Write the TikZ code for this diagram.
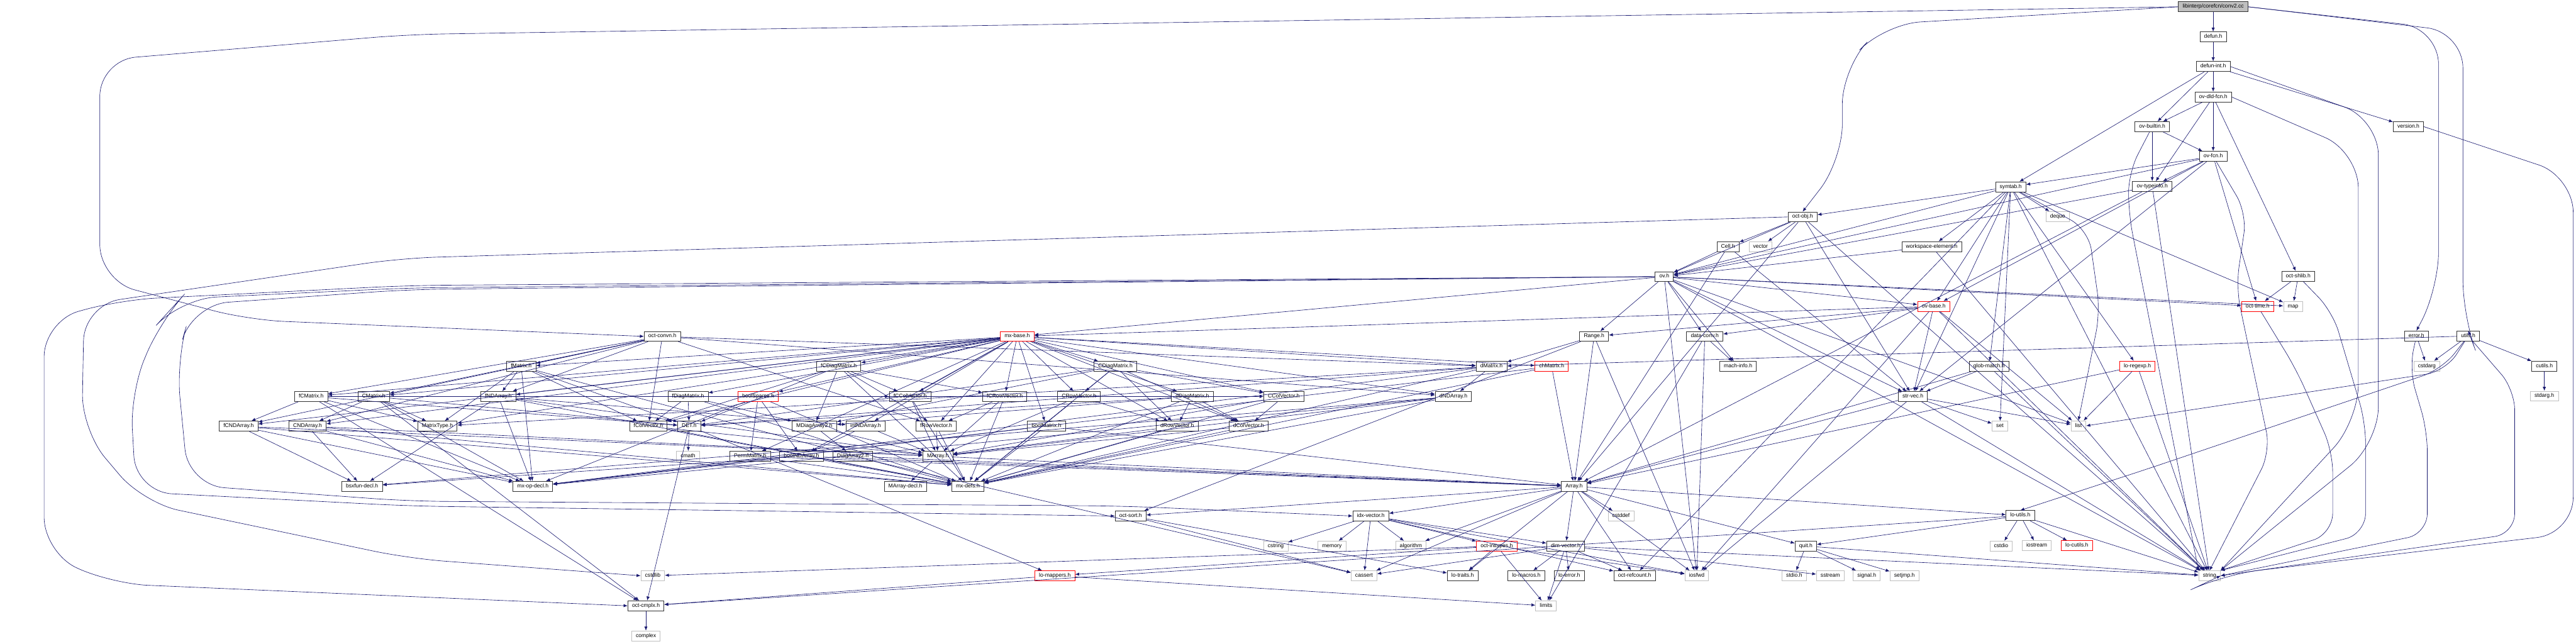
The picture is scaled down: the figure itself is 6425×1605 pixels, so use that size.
\documentclass[tikz,border=0pt]{standalone}
\usepackage{fontspec}
\setmainfont{Liberation Sans}
\usetikzlibrary{arrows.meta}
\definecolor{edgeblue}{RGB}{25,25,112}
\definecolor{syshdr}{RGB}{191,191,191}
\tikzset{
    hdrbase/.style={
        rectangle,
        draw=black!80,
        line width=1.2pt,
        fill=white,
        minimum height=25pt,
        inner xsep=10.5pt,
        inner ysep=0pt,
        text height=9.5pt,
        text depth=3pt,
        font=\fontsize{13.5}{15}\selectfont
    },
    hdr/.style={hdrbase},
    trunc/.style={hdrbase, draw=red},
    sys/.style={hdrbase, draw=syshdr},
    rootfile/.style={hdrbase, fill=syshdr},
    line/.style={-{Latex[length=10pt,width=8pt]}, draw=edgeblue, line width=1pt},
    wrap/.style={line, rounded corners=90pt},
    bow/.style={line, rounded corners=50pt},
}

\begin{document}
\begin{tikzpicture}[x=1pt, y=-1pt]
    \useasboundingbox (0,0) rectangle (6425,1605);

    % libinterp
    \node[rootfile] (conv2) at (5520,17) {libinterp/corefcn/conv2.cc};
    \node[hdr] (defunh) at (5520,92) {defun.h};
    \node[hdr] (defunint) at (5520,166) {defun-int.h};
    \node[hdr] (ovdld) at (5520,242) {ov-dld-fcn.h};
    \node[hdr] (ovbuiltin) at (5368,316) {ov-builtin.h};
    \node[hdr] (versionh) at (6007,316) {version.h};
    \node[hdr] (ovfcn) at (5520,390) {ov-fcn.h};
    \node[hdr] (symtab) at (5015,466) {symtab.h};
    \node[hdr] (ovtypeinfo) at (5368,465) {ov-typeinfo.h};
    \node[hdr] (octobj) at (4496,541) {oct-obj.h};
    \node[sys] (dequeh) at (5132,540) {deque};
    \node[hdr] (cellh) at (4310,615) {Cell.h};
    \node[sys] (vectorh) at (4391,615) {vector};
    \node[hdr] (wselem) at (4818,615) {workspace-element.h};
    \node[hdr] (ovh) at (4151,690) {ov.h};
    \node[hdr] (octshlib) at (5732,689) {oct-shlib.h};
    \node[trunc] (ovbase) at (4823,764) {ov-base.h};
    \node[trunc] (octtime) at (5631,764) {oct-time.h};
    \node[sys] (maph) at (5719,764) {map};
    \node[hdr] (errorh) at (6027,838) {error.h};
    \node[hdr] (utilsh) at (6156,838) {utils.h};

    % matrix classes
    \node[hdr] (convn) at (1652,839) {oct-convn.h};
    \node[trunc] (mxbase) at (2537,839) {mx-base.h};
    \node[hdr] (rangeh) at (3976,839) {Range.h};
    \node[hdr] (dataconv) at (4252,839) {data-conv.h};
    \node[hdr] (fmatrix) at (1300,914) {fMatrix.h};
    \node[hdr] (fcdiag) at (2092,914) {fCDiagMatrix.h};
    \node[hdr] (cdiag) at (2782,914) {CDiagMatrix.h};
    \node[hdr] (dmatrix) at (3720,914) {dMatrix.h};
    \node[trunc] (chmatrix) at (3870,914) {chMatrix.h};
    \node[hdr] (machinfo) at (4335,914) {mach-info.h};
    \node[hdr] (globmatch) at (4961,914) {glob-match.h};
    \node[trunc] (loregexp) at (5331,913) {lo-regexp.h};
    \node[sys] (cstdargh) at (6053,913) {cstdarg};
    \node[hdr] (cutilsh) at (6346,913) {cutils.h};
    \node[hdr] (fcmatrix) at (776,989) {fCMatrix.h};
    \node[hdr] (cmatrix) at (932,989) {CMatrix.h};
    \node[hdr] (fndarray) at (1243,989) {fNDArray.h};
    \node[hdr] (fdiag) at (1716,989) {fDiagMatrix.h};
    \node[trunc] (boolsparse) at (1891,989) {boolSparse.h};
    \node[hdr] (fccol) at (2270,989) {fCColVector.h};
    \node[hdr] (fcrow) at (2506,989) {fCRowVector.h};
    \node[hdr] (crow) at (2691,989) {CRowVector.h};
    \node[hdr] (ddiag) at (2974,989) {dDiagMatrix.h};
    \node[hdr] (ccol) at (3202,989) {CColVector.h};
    \node[hdr] (dndarray) at (3625,989) {dNDArray.h};
    \node[hdr] (strvec) at (4771,989) {str-vec.h};
    \node[sys] (stdargh) at (6346,988) {stdarg.h};
    \node[hdr] (fcnd) at (595,1063) {fCNDArray.h};
    \node[hdr] (cnd) at (767,1063) {CNDArray.h};
    \node[hdr] (mtype) at (1091,1063) {MatrixType.h};
    \node[hdr] (fcol) at (1617,1063) {fColVector.h};
    \node[hdr] (det) at (1719,1063) {DET.h};
    \node[hdr] (mdiag) at (2031,1063) {MDiagArray2.h};
    \node[hdr] (intnd) at (2159,1063) {intNDArray.h};
    \node[hdr] (frow) at (2335,1063) {fRowVector.h};
    \node[hdr] (boolmat) at (2610,1063) {boolMatrix.h};
    \node[hdr] (drow) at (2936,1063) {dRowVector.h};
    \node[hdr] (dcol) at (3114,1063) {dColVector.h};
    \node[sys] (seth) at (4988,1063) {set};
    \node[sys] (listh) at (5184,1062) {list};
    \node[sys] (cmathh) at (1716,1138) {cmath};
    \node[hdr] (perm) at (1871,1138) {PermMatrix.h};
    \node[hdr] (boolnd) at (1999,1138) {boolNDArray.h};
    \node[hdr] (diag2) at (2127,1138) {DiagArray2.h};
    \node[hdr] (marray) at (2339,1138) {MArray.h};
    \node[hdr] (bsxfun) at (903,1213) {bsxfun-decl.h};
    \node[hdr] (mxop) at (1329,1213) {mx-op-decl.h};
    \node[hdr] (marraydecl) at (2258,1213) {MArray-decl.h};
    \node[hdr] (mxdefs) at (2414,1213) {mx-defs.h};
    \node[hdr] (arrayh) at (3926,1213) {Array.h};

    % liboctave/util and system headers
    \node[hdr] (octsort) at (2820,1287) {oct-sort.h};
    \node[hdr] (idxvec) at (3419,1287) {idx-vector.h};
    \node[sys] (cstddefh) at (4043,1287) {cstddef};
    \node[hdr] (loutils) at (5039,1286) {lo-utils.h};
    \node[sys] (cstringh) at (3182,1362) {cstring};
    \node[sys] (memoryh) at (3322,1362) {memory};
    \node[sys] (algorithmh) at (3519,1362) {algorithm};
    \node[trunc] (inttypes) at (3733,1362) {oct-inttypes.h};
    \node[hdr] (dimvec) at (3905,1362) {dim-vector.h};
    \node[hdr] (quith) at (4504,1362) {quit.h};
    \node[sys] (cstdioh) at (4991,1362) {cstdio};
    \node[sys] (iostreamh) at (5080,1361) {iostream};
    \node[trunc] (locutils) at (5180,1361) {lo-cutils.h};
    \node[sys] (cstdlibh) at (1628,1436) {cstdlib};
    \node[trunc] (lomappers) at (2631,1436) {lo-mappers.h};
    \node[sys] (cassert) at (3402,1436) {cassert};
    \node[hdr] (lotraits) at (3648,1436) {lo-traits.h};
    \node[hdr] (lomacros) at (3807,1436) {lo-macros.h};
    \node[hdr] (loerror) at (3914,1436) {lo-error.h};
    \node[hdr] (refcount) at (4077,1436) {oct-refcount.h};
    \node[sys] (iosfwdh) at (4232,1436) {iosfwd};
    \node[sys] (stdioh) at (4475,1436) {stdio.h};
    \node[sys] (sstreamh) at (4565,1436) {sstream};
    \node[sys] (signalh) at (4656,1436) {signal.h};
    \node[sys] (setjmph) at (4750,1436) {setjmp.h};
    \node[sys] (stringh) at (5511,1436) {string};
    \node[hdr] (octcmplx) at (1611,1511) {oct-cmplx.h};
    \node[sys] (limitsh) at (3856,1511) {limits};
    \node[sys] (complexh) at (1611,1586) {complex};

    % long connectors
    \draw[wrap] (conv2.west) -- (1020,86) -- (249,150) -- (249,700) -- (620,798) -- (convn.west);
    \draw[wrap] (conv2.west) -- (4700,60) -- (4595,170) -- (4595,400) -- (octobj.north);
    \draw[wrap] (conv2.east) -- (6082,70) -- (6082,720) -- (errorh.north);
    \draw[wrap] (conv2.east) -- (6143,80) -- (6143,790) -- (utilsh.north);
    \draw[wrap] (versionh.east) -- (6418,440) -- (6418,1330) -- (5545,1433) -- (stringh.east);
    \draw[wrap] (defunint.east) -- (5932,297) -- (5932,1105) -- (stringh.north east);
    \draw[wrap] (ovdld.east) -- (5882,379) -- (5882,1050) -- (stringh.north east);
    \draw[wrap] (octobj.west) -- (1000,644) -- (210,760) -- (204,1073) -- (357,1254) -- (1020,1393) -- (cstdlibh.west);
    \draw[wrap] (ovh.west) -- (1020,712) -- (300,748) -- (110,800) -- (110,1380) -- (280,1456) -- (octcmplx.west);
    \draw[wrap] (ovh.west) -- (1020,718) -- (450,745) -- (400,800) -- (325,980) -- (339,1227) -- (1020,1262) -- (octsort.west);
    \draw[wrap] (ovh.west) -- (1020,722) -- (480,760) -- (440,900) -- (470,1210) -- (1020,1250) -- (2800,1262) -- (idxvec.west);

    % bowed connectors
    \draw[bow] (ovfcn) -- (5604,532) -- (5577,717) -- (5663,1126) -- (stringh.north);
    \draw[bow] (ovbuiltin) -- (5309,430) -- (5309,532) -- (5345,717) -- (stringh.north west);
    \draw[bow] (octtime) -- (5727,921) -- (5818,1126) -- (5818,1331) -- (stringh.north east);
    \draw[bow] (octshlib) -- (5818,778) -- (5900,1054) -- (5900,1331) -- (stringh.north east);
    \draw[bow] (symtab) -- (5209,573) -- (5238,778) -- (listh.north);
    \draw[bow] (utilsh) -- (6100,926) -- (listh.east);
    \draw[bow] (utilsh) -- (6091,921) -- (5364,1167) -- (loutils.north);
    \draw[bow] (errorh) -- (6009,921) -- (6054,1075) -- (6054,1331) -- (stringh.east);
    \draw[bow] (utilsh) -- (6272,972) -- (6272,1331) -- (stringh.east);

    % includes
    \foreach \a/\b in {conv2/defunh, defunh/defunint,
        defunint/ovdld, defunint/ovbuiltin, defunint/symtab, defunint/versionh,
        ovdld/ovbuiltin, ovdld/ovfcn, ovdld/ovtypeinfo, ovdld/octshlib,
        ovbuiltin/ovfcn, ovbuiltin/ovtypeinfo,
        ovfcn/symtab, ovfcn/ovtypeinfo, ovfcn/octtime, ovfcn/ovbase, ovfcn/strvec, ovfcn/ovh,
        ovtypeinfo/ovh, ovtypeinfo/stringh, ovtypeinfo/arrayh,
        symtab/octobj, symtab/wselem, symtab/ovh, symtab/strvec, symtab/globmatch,
        symtab/dequeh, symtab/maph, symtab/loregexp, symtab/stringh,
        symtab/seth, symtab/refcount, symtab/ovbase,
        octshlib/octtime, octshlib/maph,
        loregexp/listh, loregexp/stringh, loregexp/arrayh,
        errorh/cstdargh,
        utilsh/cstdargh, utilsh/cutilsh, utilsh/dmatrix,
        cutilsh/stdargh,
        octobj/cellh, octobj/vectorh, octobj/ovh, octobj/arrayh, octobj/strvec, octobj/stringh,
        cellh/arrayh, cellh/strvec, cellh/ovh, wselem/ovh, wselem/stringh,
        ovh/rangeh, ovh/dataconv, ovh/machinfo, ovh/mxbase, ovh/strvec,
        ovh/iosfwdh, ovh/ovbase, ovh/stringh, ovh/listh, ovh/maph, ovh/octtime,
        ovbase/rangeh, ovbase/dataconv, ovbase/mxbase, ovbase/strvec, ovbase/iosfwdh, ovbase/listh, ovbase/stringh,
        mxbase/mtype, mxbase/boolmat, mxbase/boolnd, mxbase/chmatrix, mxbase/dcol, mxbase/drow,
        mxbase/dmatrix, mxbase/dndarray, mxbase/ddiag, mxbase/ccol, mxbase/crow, mxbase/cmatrix,
        mxbase/cnd, mxbase/cdiag, mxbase/fcol, mxbase/frow, mxbase/fmatrix, mxbase/fndarray,
        mxbase/fdiag, mxbase/fccol, mxbase/fcrow, mxbase/fcmatrix, mxbase/fcnd, mxbase/fcdiag,
        mxbase/perm, mxbase/intnd, mxbase/boolsparse,
        convn/fmatrix, convn/fndarray, convn/fcol, convn/frow, convn/fcmatrix, convn/fcnd,
        convn/dmatrix, convn/dndarray, convn/cmatrix, convn/cnd,
        rangeh/dmatrix, rangeh/arrayh, rangeh/octsort, rangeh/iosfwdh,
        dataconv/machinfo, dataconv/limitsh, dataconv/iosfwdh,
        globmatch/strvec, globmatch/arrayh, globmatch/stringh,
        strvec/seth, strvec/arrayh, strvec/iosfwdh, strvec/listh, strvec/stringh,
        fmatrix/fndarray, fmatrix/mtype, fmatrix/det, fmatrix/mxop, fmatrix/mxdefs, fmatrix/fcol,
        fcdiag/mdiag, fcdiag/frow, fcdiag/fcrow, fcdiag/fcol, fcdiag/fccol, fcdiag/det, fcdiag/mxdefs,
        cdiag/mdiag, cdiag/drow, cdiag/crow, cdiag/dcol, cdiag/ccol, cdiag/det, cdiag/mxdefs,
        dmatrix/dndarray, dmatrix/mtype, dmatrix/det, dmatrix/mxop, dmatrix/mxdefs,
        chmatrix/arrayh, chmatrix/mxdefs, chmatrix/mxop,
        fcmatrix/fcnd, fcmatrix/mtype, fcmatrix/det, fcmatrix/mxop, fcmatrix/octcmplx, fcmatrix/fccol,
        cmatrix/cnd, cmatrix/mtype, cmatrix/det, cmatrix/mxop, cmatrix/octcmplx, cmatrix/ccol,
        fndarray/intnd, fndarray/marray, fndarray/mxdefs, fndarray/mxop, fndarray/bsxfun,
        dndarray/marray, dndarray/mxdefs, dndarray/mxop, dndarray/bsxfun,
        fcnd/marray, fcnd/mxdefs, fcnd/mxop, fcnd/bsxfun,
        cnd/marray, cnd/mxdefs, cnd/mxop, cnd/bsxfun,
        fdiag/mdiag, fdiag/fcol, fdiag/det, fdiag/mxdefs,
        ddiag/mdiag, ddiag/drow, ddiag/dcol, ddiag/det, ddiag/mxdefs,
        boolsparse/perm, boolsparse/boolnd, boolsparse/mxdefs, boolsparse/mxop,
        fccol/marray, fccol/mxdefs, fcrow/frow, fcrow/marray, fcrow/mxdefs,
        crow/drow, crow/marray, crow/mxdefs, ccol/dcol, ccol/marray, ccol/mxdefs,
        fcol/marray, fcol/mxdefs, frow/marray, frow/mxdefs,
        drow/marray, drow/mxdefs, dcol/marray, dcol/mxdefs,
        boolmat/mxdefs, boolmat/mxop, boolmat/arrayh,
        mdiag/diag2, mdiag/marray, intnd/marray, intnd/boolnd,
        boolnd/mxdefs, boolnd/mxop, boolnd/bsxfun, boolnd/arrayh,
        perm/arrayh, perm/mxdefs, diag2/arrayh, diag2/cassert,
        marray/arrayh, marray/marraydecl,
        det/cmathh, det/octcmplx, det/lomappers,
        arrayh/cstddefh, arrayh/algorithmh, arrayh/idxvec, arrayh/dimvec, arrayh/lotraits,
        arrayh/refcount, arrayh/cassert, arrayh/iosfwdh, arrayh/octsort, arrayh/loutils, arrayh/quith,
        idxvec/cstringh, idxvec/memoryh, idxvec/cassert, idxvec/algorithmh, idxvec/inttypes,
        idxvec/dimvec, idxvec/refcount, idxvec/iosfwdh,
        octsort/lotraits, octsort/cassert,
        dimvec/cassert, dimvec/limitsh, dimvec/sstreamh, dimvec/loerror, dimvec/lomacros,
        dimvec/refcount, dimvec/stringh,
        inttypes/cstdlibh, inttypes/limitsh, inttypes/iosfwdh, inttypes/lotraits, inttypes/lomappers,
        lomappers/limitsh, lomappers/octcmplx,
        octcmplx/complexh,
        quith/stdioh, quith/signalh, quith/setjmph, quith/stringh,
        loutils/cstdioh, loutils/iostreamh, loutils/locutils, loutils/octcmplx, loutils/quith, loutils/stringh}
        \draw[line] (\a) -- (\b);
\end{tikzpicture}
\end{document}
